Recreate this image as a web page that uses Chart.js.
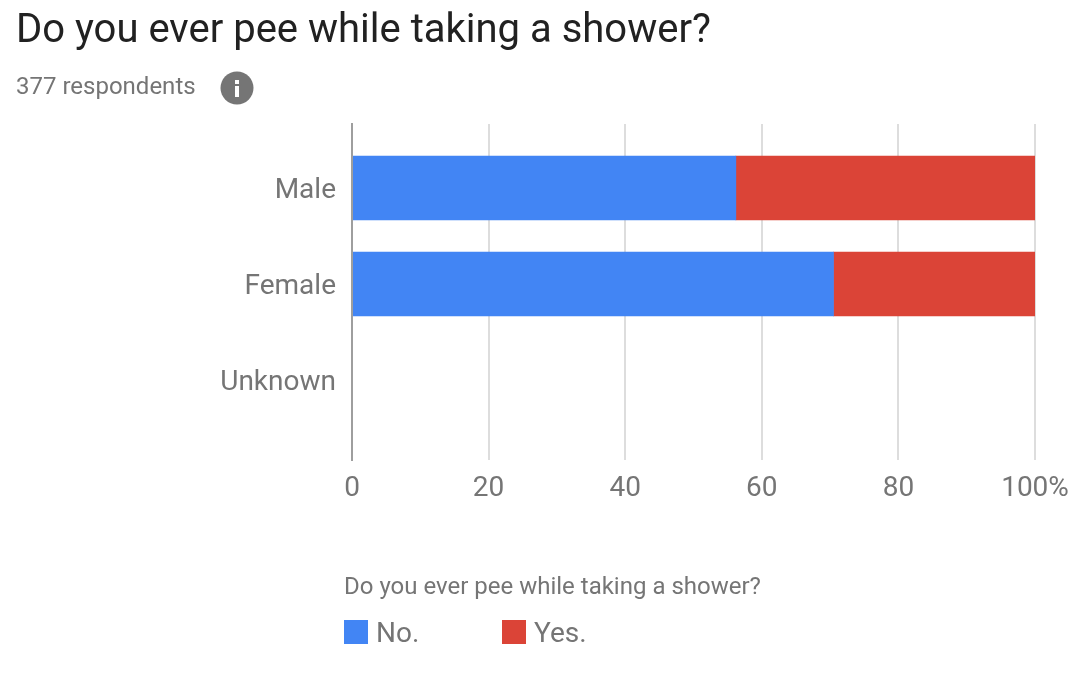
<!DOCTYPE html>
<html>
<head>
<meta charset="utf-8">
<title>Do you ever pee while taking a shower?</title>
<script src="https://cdn.jsdelivr.net/npm/chart.js@4"></script>
<style>
body { margin: 0; background: #fff; font-family: Roboto, sans-serif; }
#wrap { position: relative; width: 1087px; height: 678px; overflow: hidden; }
#wrap div, #wrap svg { position: absolute; white-space: nowrap; }
canvas { position: absolute; left: 0; top: 0; }
#title { left: 16px; top: 7px; font-size: 40px; line-height: 44px; color: #212121; }
#sub { left: 16px; top: 71px; font-size: 24px; line-height: 30px; color: #757575; }
#info { left: 220px; top: 71px; }
#legendTitle { left: 344px; top: 571px; font-size: 24px; line-height: 30px; color: #757575; }
.swatch { width: 24px; height: 24px; top: 620px; }
.lbl { top: 616px; font-size: 28px; line-height: 34px; color: #757575; }
</style>
</head>
<body>
<div id="wrap">
  <canvas id="myChart" width="1087" height="678"></canvas>
  <div id="title">Do you ever pee while taking a shower?</div>
  <div id="sub">377 respondents</div>
  <svg id="info" width="34" height="34" viewBox="0 0 34 34">
    <circle cx="17" cy="17" r="16.5" fill="#757575"/>
    <rect x="15" y="15" width="4" height="11" fill="#fff"/>
    <rect x="15" y="9" width="4" height="4" fill="#fff"/>
  </svg>
  <div id="legendTitle">Do you ever pee while taking a shower?</div>
  <div id="legend"></div>
</div>
<script>
var categories = ["Male", "Female", "Unknown"];
var noValues = [56.2, 70.5, null];
var yesValues = [43.8, 29.5, null];
var xTicks = [0, 20, 40, 60, 80, 100];

function points(values) {
  return values.map(function(v, i) { return { x: v, y: i }; });
}

var ctx = document.getElementById("myChart").getContext("2d");
var myChart = new Chart(ctx, {
  type: "bar",
  data: {
    datasets: [
      { label: "No.", data: points(noValues), backgroundColor: "#4285F4" },
      { label: "Yes.", data: points(yesValues), backgroundColor: "#DB4437" }
    ]
  },
  options: {
    indexAxis: "y",
    responsive: false,
    animation: false,
    barThickness: 64,
    layout: { padding: { top: 124, right: 52 } },
    plugins: { legend: { display: false }, tooltip: { enabled: false } },
    scales: {
      x: {
        type: "linear",
        stacked: true,
        min: 0,
        max: 100,
        afterFit: function(scale) { scale.height = 218; },
        afterBuildTicks: function(scale) {
          scale.ticks = xTicks.map(function(v) { return { value: v }; });
        },
        border: { display: false },
        grid: {
          drawTicks: false,
          lineWidth: 2,
          color: function(c) { return c.tick && c.tick.value === 0 ? "rgba(0,0,0,0)" : "#DDDDDD"; }
        },
        ticks: {
          color: "#757575",
          padding: 12,
          maxRotation: 0,
          font: { family: "Roboto", size: 28 },
          callback: function(v) { return v === 100 ? "100%" : v; }
        }
      },
      y: {
        type: "linear",
        stacked: true,
        reverse: true,
        offset: false,
        min: -0.6667,
        max: 2.8333,
        afterFit: function(scale) { scale.width = 352; },
        afterBuildTicks: function(scale) {
          scale.ticks = categories.map(function(c, i) { return { value: i }; });
        },
        border: { display: true, color: "#9E9E9E", width: 2, z: 1 },
        grid: { display: false, drawTicks: false },
        ticks: {
          color: "#757575",
          padding: 16,
          labelOffset: 3,
          font: { family: "Roboto", size: 28 },
          callback: function(v) { return categories[v]; }
        }
      }
    }
  }
});

// leyenda en html, sale de los datasets
var lefts = [[344, 376], [502, 534]];
var legend = document.getElementById("legend");
myChart.data.datasets.forEach(function(ds, i) {
  var s = document.createElement("div");
  s.className = "swatch";
  s.style.left = lefts[i][0] + "px";
  s.style.background = ds.backgroundColor;
  legend.appendChild(s);
  var t = document.createElement("div");
  t.className = "lbl";
  t.style.left = lefts[i][1] + "px";
  t.textContent = ds.label;
  legend.appendChild(t);
});
</script>
</body>
</html>
